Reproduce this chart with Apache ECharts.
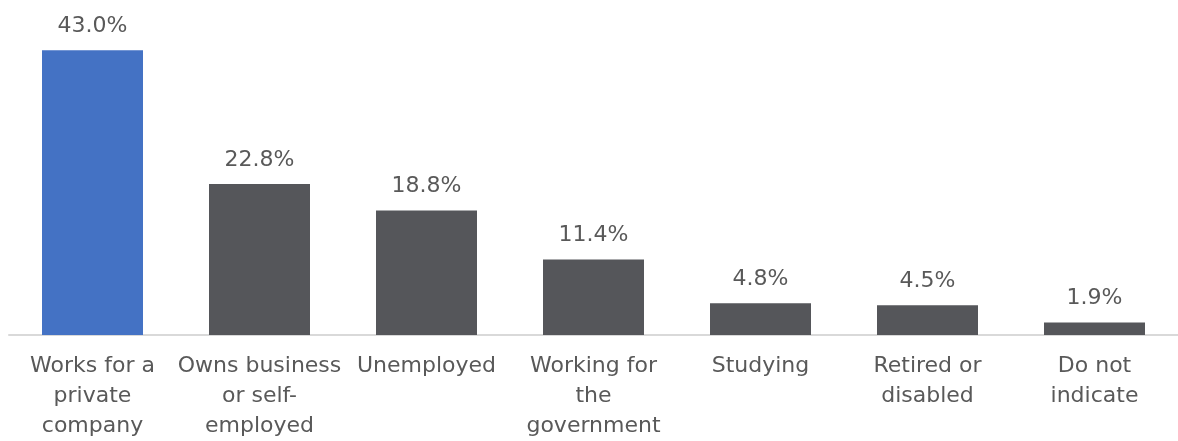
<!DOCTYPE html>
<html>
<head>
<meta charset="utf-8">
<script src="https://cdn.jsdelivr.net/npm/echarts@6/dist/echarts.min.js"></script>
<style>
  html, body { margin: 0; padding: 0; background: #ffffff; }
  #chart { width: 1178px; height: 441px; }
</style>
</head>
<body>
<div id="chart"></div>
<script>
// Employment status shares (percent of respondents)
const categories = [
  'Works for a\nprivate\ncompany',
  'Owns business\nor self-\nemployed',
  'Unemployed',
  'Working for\nthe\ngovernment',
  'Studying',
  'Retired or\ndisabled',
  'Do not\nindicate'
];
const shares = [43.0, 22.8, 18.8, 11.4, 4.8, 4.5, 1.9];
const highlightIndex = 0;

const BLUE = '#4472C4';
const GREY = '#55565A';
const TEXT = '#595959';
const FONT = '"DejaVu Sans", sans-serif';

const chart = echarts.init(document.getElementById('chart'), null, { renderer: 'canvas' });

chart.setOption({
  animation: false,
  backgroundColor: '#ffffff',
  grid: { left: 9, right: -15, top: 4, bottom: 101, containLabel: false },
  xAxis: {
    type: 'category',
    data: categories,
    axisTick: { show: false },
    axisLine: { show: true, lineStyle: { color: '#D9D9D9', width: 2 } },
    axisLabel: {
      interval: 0,
      color: TEXT,
      fontFamily: FONT,
      fontSize: 22,
      lineHeight: 30,
      margin: 16,
      align: 'center'
    }
  },
  yAxis: {
    type: 'value',
    min: 0,
    max: 50,
    show: false,
    splitLine: { show: false }
  },
  series: [{
    type: 'bar',
    data: shares.map((v, i) => ({
      value: v,
      itemStyle: { color: i === highlightIndex ? BLUE : GREY }
    })),
    barWidth: 101,
    label: {
      show: true,
      position: 'top',
      distance: 9,
      color: TEXT,
      fontFamily: FONT,
      fontSize: 22,
      lineHeight: 30,
      formatter: p => p.value.toFixed(1) + '%'
    }
  }]
});
</script>
</body>
</html>
